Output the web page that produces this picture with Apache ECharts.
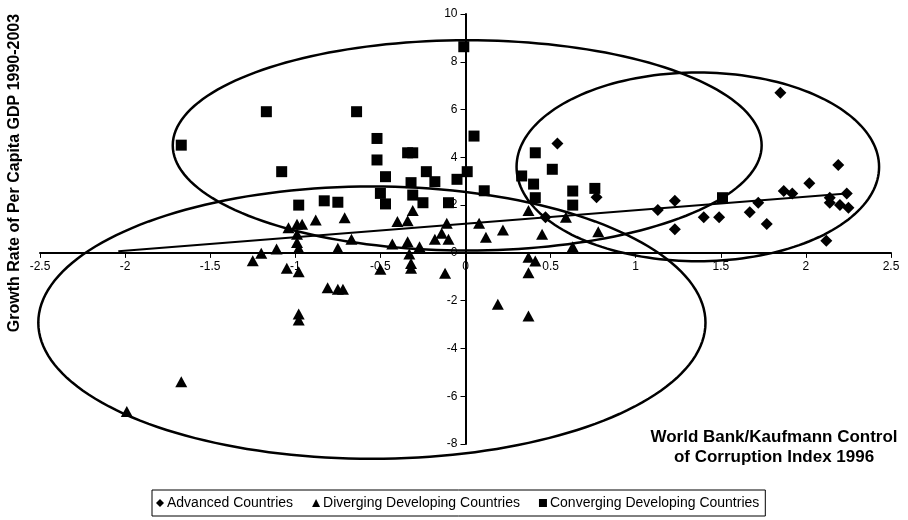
<!DOCTYPE html>
<html>
<head>
<meta charset="utf-8">
<script src="https://cdn.jsdelivr.net/npm/echarts@6/dist/echarts.min.js"></script>
<style>html,body{margin:0;padding:0;background:#fff;}#c{width:908px;height:520px;}</style>
</head>
<body>
<div id="c"></div>
<script>
// Axis ticks
var xTicks = [-2.5, -2, -1.5, -1, -0.5, 0, 0.5, 1, 1.5, 2, 2.5];
var yTicks = [-8, -6, -4, -2, 0, 2, 4, 6, 8, 10];

// Advanced Countries
var advX = [0.54, 0.77, 0.47, 1.13, 1.23, 1.23, 1.40, 1.49, 1.67, 1.72, 1.77, 1.85, 1.87, 1.92, 2.02, 2.12, 2.14, 2.14, 2.19, 2.20, 2.24, 2.25];
var advY = [4.58, 2.33, 1.49, 1.80, 2.18, 0.99, 1.49, 1.49, 1.70, 2.10, 1.21, 6.70, 2.59, 2.49, 2.91, 0.51, 2.31, 2.10, 3.68, 2.00, 2.49, 1.89];

// Diverging Developing Countries
var divX = [-1.04, -0.99, -0.96, -0.88, -0.71, -0.99, -0.99, -0.98, -1.20, -1.11, -1.25, -1.05, -0.98, -0.81, -0.75, -0.72, -0.75, -0.67, -0.50, -0.43, -0.40, -0.34, -0.31, -0.34, -0.33, -0.32, -0.32, -0.27, -0.18, -0.14, -0.11, -0.10, -0.12, 0.08, 0.12, 0.22, 0.19, 0.37, 0.37, 0.41, 0.37, 0.37, 0.45, 0.59, 0.63, 0.78, -1.99, -1.67, -0.98, -0.98];
var divY = [1.05, 1.20, 1.20, 1.38, 1.47, 0.78, 0.43, 0.19, -0.02, 0.16, -0.33, -0.64, -0.79, -1.46, -1.52, -1.52, 0.19, 0.57, -0.69, 0.37, 1.31, 1.35, 1.77, 0.47, -0.05, -0.44, -0.64, 0.26, 0.57, 0.82, 1.24, 0.57, -0.85, 1.24, 0.65, 0.96, -2.15, 1.77, -0.18, -0.34, -0.83, -2.64, 0.78, 1.49, 0.26, 0.89, -6.64, -5.39, -2.56, -2.81];

// Converging Developing Countries
var convX = [-1.67, -1.17, -0.64, -1.08, -0.98, -0.83, -0.75, -0.52, -0.52, -0.47, -0.50, -0.47, -0.34, -0.31, -0.32, -0.31, -0.25, -0.23, -0.18, -0.10, -0.05, 0.01, -0.01, 0.05, 0.11, 0.33, 0.41, 0.40, 0.41, 0.51, 0.63, 0.63, 0.76, 1.51];
var convY = [4.51, 5.91, 5.91, 3.40, 2.00, 2.18, 2.12, 4.79, 3.89, 3.19, 2.49, 2.05, 4.19, 4.19, 2.94, 2.42, 2.10, 3.40, 2.98, 2.10, 3.08, 3.40, 8.63, 4.89, 2.60, 3.22, 4.19, 2.88, 2.31, 3.50, 2.59, 2.00, 2.70, 2.31];

// Trend line endpoints
var trendX = [-2.04, 2.24];
var trendY = [0.07, 2.49];

// Ellipses (centre and radii in data units)
var ellCx = [0.01, 1.365, -0.55];
var ellCy = [4.5, 3.6, -2.92];
var ellRx = [1.73, 1.065, 1.96];
var ellRy = [4.4, 3.95, 5.7];

var seriesNames = ['Advanced Countries', 'Diverging Developing Countries', 'Converging Developing Countries'];

function zip(a, b) { return a.map(function (v, i) { return [v, b[i]]; }); }

var FONT = 'Arial, "Liberation Sans", sans-serif';
var W = 908, H = 520;
var G = { left: 40, right: 17, top: 14, bottom: 76 };
var xMin = xTicks[0], xMax = xTicks[xTicks.length - 1];
var yMin = yTicks[0], yMax = yTicks[yTicks.length - 1];
var plotW = W - G.left - G.right, plotH = H - G.top - G.bottom;
// move axes so that they cross at the origin
var xAxisOffset = -plotH * (0 - yMin) / (yMax - yMin);
var yAxisOffset = -plotW * (0 - xMin) / (xMax - xMin);

var chart = echarts.init(document.getElementById('c'), null, { renderer: 'canvas' });

var option = {
  animation: false,
  backgroundColor: '#fff',
  textStyle: { fontFamily: FONT, color: '#000' },
  grid: G,
  xAxis: {
    type: 'value', min: xMin, max: xMax, interval: 0.5, position: 'bottom', offset: xAxisOffset,
    axisLine: { onZero: false, lineStyle: { color: '#000', width: 2 } },
    axisTick: { show: true, length: 5, lineStyle: { color: '#000', width: 1 } },
    axisLabel: { color: '#000', fontSize: 12, fontFamily: FONT, margin: 8 },
    splitLine: { show: false }
  },
  yAxis: {
    type: 'value', min: yMin, max: yMax, interval: 2, position: 'left', offset: yAxisOffset,
    axisLine: { onZero: false, lineStyle: { color: '#000', width: 2 } },
    axisTick: { show: true, length: 5, lineStyle: { color: '#000', width: 1 } },
    axisLabel: { color: '#000', fontSize: 12, fontFamily: FONT, margin: 8 },
    splitLine: { show: false }
  },
  legend: {
    data: seriesNames,
    left: 152, top: 490,
    orient: 'horizontal',
    padding: [6, 6, 6, 4],
    itemGap: 19,
    itemWidth: 8, itemHeight: 8,
    borderColor: '#000', borderWidth: 1,
    textStyle: { color: '#000', fontSize: 14, fontFamily: FONT, padding: [0, 0, 0, -2] }
  },
  graphic: [
    {
      type: 'text', x: 15, y: 173, rotation: Math.PI / 2,
      style: { text: 'Growth Rate of Per Capita GDP 1990-2003', fill: '#000', font: 'bold 16px ' + FONT, textAlign: 'center', textVerticalAlign: 'middle' }
    },
    {
      type: 'text', x: 774, y: 447,
      style: { text: 'World Bank/Kaufmann Control\nof Corruption Index 1996', fill: '#000', font: 'bold 17px ' + FONT, textAlign: 'center', textVerticalAlign: 'middle', lineHeight: 20 }
    }
  ],
  series: [
    {
      name: 'Ellipses', type: 'custom', clip: false, silent: true, z: 3,
      data: ellCx.map(function (v, i) { return [v, ellCy[i], ellRx[i], ellRy[i]]; }),
      encode: { x: 0, y: 1 },
      renderItem: function (params, api) {
        var c = api.coord([api.value(0), api.value(1)]);
        var e = api.coord([api.value(0) + api.value(2), api.value(1) + api.value(3)]);
        var rx = Math.abs(e[0] - c[0]), ry = Math.abs(e[1] - c[1]);
        var pts = [];
        for (var k = 0; k < 180; k++) {
          var t = k / 180 * Math.PI * 2;
          pts.push([c[0] + rx * Math.cos(t), c[1] + ry * Math.sin(t)]);
        }
        return { type: 'polygon', shape: { points: pts }, style: { fill: null, stroke: '#000', lineWidth: 2.5 } };
      }
    },
    {
      name: 'Trend', type: 'line', data: zip(trendX, trendY), symbol: 'none', silent: true, z: 3,
      lineStyle: { color: '#000', width: 2 }
    },
    {
      name: seriesNames[0], type: 'scatter', data: zip(advX, advY), symbol: 'diamond', symbolSize: 12,
      itemStyle: { color: '#000', opacity: 1 }, z: 4
    },
    {
      name: seriesNames[1], type: 'scatter', data: zip(divX, divY), symbol: 'triangle', symbolSize: [12, 11],
      itemStyle: { color: '#000', opacity: 1 }, z: 4
    },
    {
      name: seriesNames[2], type: 'scatter', data: zip(convX, convY), symbol: 'rect', symbolSize: 11,
      itemStyle: { color: '#000', opacity: 1 }, z: 4
    }
  ]
};
chart.setOption(option);
</script>
</body>
</html>
